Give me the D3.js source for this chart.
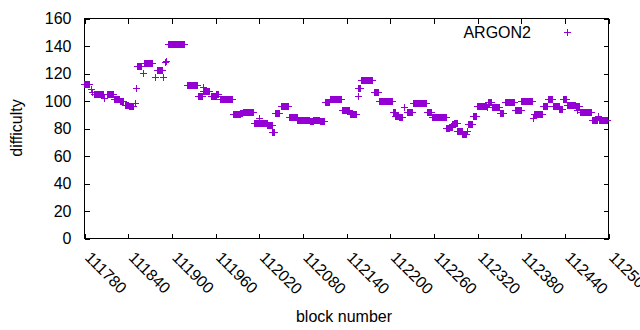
<!DOCTYPE html>
<html>
<head>
<meta charset="utf-8">
<script src="https://cdn.jsdelivr.net/npm/d3@7"></script>
<style>
  html, body { margin: 0; padding: 0; background: #fff; }
  svg { display: block; }
  text { font-family: "Liberation Sans", Arial, sans-serif; font-size: 16px; fill: #000; }
</style>
</head>
<body>
<svg id="chart" width="640" height="330"></svg>
<script>
// ---- data ----
const seriesName = "ARGON2";
const firstBlock = 111780;            // block number of difficulty[0]
const _ = null;                       // no ARGON2 block at this height
const difficulty = [
  // 111780-111793
  112,112,112,112,112,112,112,112,_,108,_,106,_,_,
  // 111794-111811
  105,105,105,105,105,105,105,105,105,105,105,105,105,102,_,_,_,_,
  // 111812-111835
  105,105,105,105,105,105,105,105,105, 101,101,101,101,101,101,101,101, 100,100,100,100,100, _,_,
  // 111836-111852
  97,97,97,97,97,97, 96,96,96,96,96,96, _,_,98,_,109,
  // 111853-111879
  125,125,125,125,125,125,125, _,120, 127,127,127,127,127,127,127,127,127,127,127,127,127, _,_,117,_,_,
  // 111880-111920
  122,122,122,122,122,122,122,122, _,117,_,128,_,129,_,
  141,141,141,141,141,141,141,141,141,141,141,141,141,141,141,141,141,141,141,141,141,141,141,141, _,_,
  // 111921-111966
  111,111,111,111,111,111,111,111,111,111,111,111,111,111,111, 103,103,103,103,103,103,103, 110,
  107,107,107,107,107,107,107,107,107, _, 103,103,103,103,103,103,103,103, 105,105,105, _,_,
  // 111967-112042
  101,101,101,101,101,101,101,101,101,101,101,101,101,101,101,101,101,101,
  90,90,90,90,90,90,90,90,90,90, 91,91,91,
  92,92,92,92,92,92,92,92,92,92,92,92,92,92,92,
  84,84,84,84,84,84,84,84, 87, 84,84,84,84,84,84,84,84,84,84,
  82,82,82,82,82,82,82, 77,77,77, _,
  // 112043-112110
  91,91,91,91,91,91, _,_, 96,96,96,96,96,96,96,96,96,96, _,
  88,88,88,88,88,88,88,88,88,88,88,
  86,86,86,86,86,86,86,86,86,86,86,86,86,86,86,86,86, 85,85,85,85,85,
  86,86,86,86,86,86,86,86,86, 85,85,85,85,85,85,85,
  // 112111-112185
  99,99,99,99,99,99,99, 101,101,101,101,101,101,101,101,101,101,101,101,101,101,101,101, _,
  93,93,93,93,93,93,93,93,93,93, 90,90,90,90,90,90,90,90,90,90, _,103, 109,109,109,
  115,115,115,115,115,115,115,115,115,115,115,115,115,115,115,115,115, _,
  106,106,106,106,106,106,106, _,
  // 112186-112257
  100,100,100,100,100,100,100,100,100,100,100,100,100,100,100,100,100,100,
  92,92,92,92, 89,89,89,89,89, 88,88,88,88,88, _,_,95,_,_,_,
  92,92,92,92,92,92,92,92, 98,98,98,98,98,98,98,98,98,98,98,98,98,98,98,98,98,98,98,
  92,92,92,92,92,92,92,
  // 112258-112319
  88,88,88,88,88,88,88,88,88,88,88,88,88,88,88,88,88,88,88,88,
  80,80,80,80,80, 81,81,81, 83,83,83, 84,84,84,84,
  78,78,78,78,78,78,78, 76,76,76,76,76,76, 78, 83,83,83,83,83,83,83, 89,89,89,89,89,89,
  // 112320-112398
  96,96,96,96,96,96,96,96,96,96,96,96,96,96, 95, 99,99,99,99,99,
  95,95,95,95,95,95,95,95,95,95,95, 91,91,91,91,91,91, _,
  99,99,99,99,99,99,99,99,99,99,99,99,99,99, 93,93,93,93,93,93,93,93,93,
  100,100,100,100,100,100,100,100,100,100,100,100,100,100,100,100, 87,_,
  // 112399-112461
  90,90,90,90,90,90,90,90,90,90,90, _, 96,96,96,96,96,96, 101,101,101,101,101,101,101,
  96,96,96,96,96,96,96,96,96, 94,94,94,94,94, 101,101,101,101,101,
  97,97,97,97,97,97,97,97,97,97,97,97,97, 96,93,96,96,96, _,
  // 112462-112499
  92,92,92,92,92,92,92,92,92,92,92,92,92,92,92,92, 86,86,86,86,86,86,86,86, 89,_,
  86,86,86,86,86,86,86,86,86,86,86,86
];
const xTicks = [111780, 111840, 111900, 111960, 112020, 112080, 112140, 112200, 112260, 112320, 112380, 112440, 112500];
const yTicks = [0, 20, 40, 60, 80, 100, 120, 140, 160];
const xTitle = "block number";
const yTitle = "difficulty";

// ---- layout ----
const color = "#9400d3";
const L = 84.5, R = 608.5, T = 18.5, B = 238.5;
const svg = d3.select("#chart");

const x = d3.scaleLinear().domain([xTicks[0], xTicks[xTicks.length - 1]]).range([L, R]);
const y = d3.scaleLinear().domain([yTicks[0], yTicks[yTicks.length - 1]]).range([B, T]);

const points = difficulty
  .map((v, i) => ({ block: firstBlock + i, value: v }))
  .filter(d => d.value !== null);

// axes (inward ticks, mirrored)
const tick = 5;
const gx = svg.append("g").attr("transform", `translate(0,${B})`)
  .call(d3.axisBottom(x).tickValues(xTicks).tickFormat(d3.format("d")).tickSize(-tick).tickSizeOuter(0));
gx.select(".domain").remove();
gx.selectAll("text")
  .attr("y", 0).attr("dy", 0)
  .attr("text-anchor", "start")
  .attr("transform", "translate(-1,20) rotate(45)");

svg.append("g").attr("transform", `translate(0,${T})`)
  .call(d3.axisTop(x).tickValues(xTicks).tickFormat("").tickSize(-tick).tickSizeOuter(0))
  .select(".domain").remove();

const gy = svg.append("g").attr("transform", `translate(${L},0)`)
  .call(d3.axisLeft(y).tickValues(yTicks).tickSize(-tick).tickSizeOuter(0).tickPadding(13));
gy.select(".domain").remove();

svg.append("g").attr("transform", `translate(${R},0)`)
  .call(d3.axisRight(y).tickValues(yTicks).tickFormat("").tickSize(-tick).tickSizeOuter(0))
  .select(".domain").remove();

svg.selectAll(".tick line").attr("stroke", "#000").attr("shape-rendering", "crispEdges");
svg.selectAll(".tick text").style("font-family", '"Liberation Sans", Arial, sans-serif').style("font-size", "16px").attr("fill", "#000");

// frame
svg.append("rect")
  .attr("x", L).attr("y", T).attr("width", R - L).attr("height", B - T)
  .attr("fill", "none").attr("stroke", "#000").attr("stroke-width", 1)
  .attr("shape-rendering", "crispEdges");

// points as "+"
const h = 3.5;
const px = d => Math.round(x(d.block) - 0.5) + 0.5;
const py = d => Math.round(y(d.value) - 0.5) + 0.5;
svg.append("g")
  .selectAll("path")
  .data(points)
  .join("path")
  .attr("d", d => `M${px(d) - h},${py(d)}H${px(d) + h}M${px(d)},${py(d) - h}V${py(d) + h}`)
  .attr("stroke", color)
  .attr("stroke-width", 1)
  .attr("fill", "none")
  .attr("shape-rendering", "crispEdges");

// legend
svg.append("text").attr("x", 531).attr("y", 37.5).attr("text-anchor", "end").text(seriesName);
svg.append("path")
  .attr("d", `M${567.5 - h},32.5H${567.5 + h}M567.5,${32.5 - h}V${32.5 + h}`)
  .attr("stroke", color).attr("stroke-width", 1).attr("shape-rendering", "crispEdges");

// titles
svg.append("text").attr("x", 344).attr("y", 322).attr("text-anchor", "middle").text(xTitle);
svg.append("text").attr("transform", "translate(22,128) rotate(-90)").attr("text-anchor", "middle").text(yTitle);
</script>
</body>
</html>
